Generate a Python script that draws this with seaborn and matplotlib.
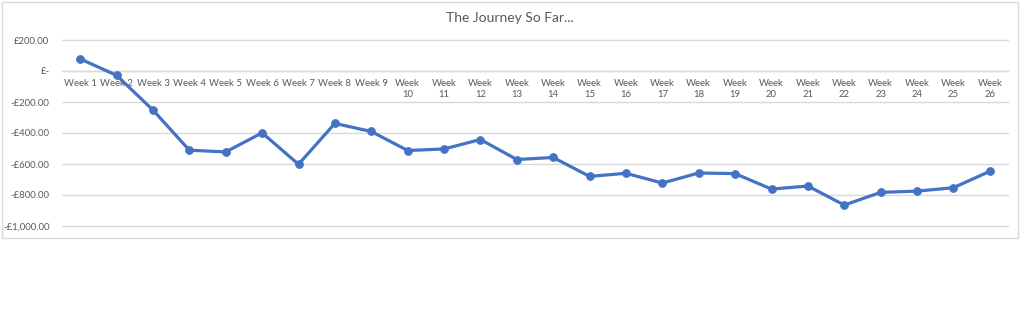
import matplotlib
matplotlib.use("Agg")
import matplotlib.pyplot as plt
import matplotlib.ticker as mticker
from matplotlib.patches import Rectangle
import seaborn as sns
import pandas as pd

weeks = [f"Week {i}" for i in range(1, 27)]
balance = [78, -28, -252, -511, -522, -399, -602, -338, -390, -513, -503, -442, -571,
           -558, -680, -660, -723, -658, -662, -762, -742, -865, -783, -775, -753, -647]
y_ticks = [200, 0, -200, -400, -600, -800, -1000]
title = "The Journey So Far..."

sns.set_theme(style="white")
plt.rcParams['font.family'] = ['Lato', 'DejaVu Sans']

df = pd.DataFrame({"idx": range(len(weeks)), "week": weeks, "balance": balance})

fig = plt.figure(figsize=(10.21, 3.34), dpi=100)
W, H = 1021, 334
ax = fig.add_axes([62 / W, (H - 226) / H, (1008 - 62) / W, (226 - 40) / H])

grid_col = "#d9d9d9"
text_col = "#595959"
line_col = "#4472C4"

for t in y_ticks:
    ax.axhline(t, color=grid_col, lw=1.0, zorder=0, clip_on=False)

sns.lineplot(data=df, x="idx", y="balance", ax=ax, color=line_col, lw=2.3,
             marker="o", markersize=5.5, markeredgecolor=line_col, zorder=3)

ax.set_xlim(-0.5, len(weeks) - 0.5)
ax.set_ylim(min(y_ticks), max(y_ticks))
ax.set_yticks(y_ticks)


def fmt(v, pos):
    if v == 0:
        return "£-"
    s = f"£{abs(v):,.2f}"
    return ("-" + s) if v < 0 else s


ax.yaxis.set_major_formatter(mticker.FuncFormatter(fmt))


def wrap(lbl):
    return lbl.replace(" ", "\n") if len(lbl) > 6 else lbl


ax.set_xticks(list(df["idx"]))
ax.set_xticklabels([wrap(w) for w in weeks], linespacing=1.3)

for s in ["top", "right", "left"]:
    ax.spines[s].set_visible(False)
ax.spines["bottom"].set_position(("data", 0))
ax.spines["bottom"].set_color(grid_col)
ax.spines["bottom"].set_linewidth(1.0)

ax.tick_params(axis="x", length=0, pad=6, labelsize=6.9, colors=text_col, labelcolor=text_col)
ax.tick_params(axis="y", length=0, pad=9, labelsize=6.9, labelcolor=text_col)
for lab in ax.get_xticklabels():
    lab.set_verticalalignment("top")
ax.set_xlabel("")
ax.set_ylabel("")
ax.grid(False)
ax.set_facecolor("none")

fig.text(510 / W, (H - 18) / H, title, ha="center", va="center", fontsize=10, color=text_col)

fig.patches.append(Rectangle((1.5 / W, (H - 238) / H), (1018 - 1.5) / W, (238 - 1.5) / H,
                             transform=fig.transFigure, fill=False, edgecolor=grid_col, lw=1.0))

fig.savefig("out.png", dpi=100)
